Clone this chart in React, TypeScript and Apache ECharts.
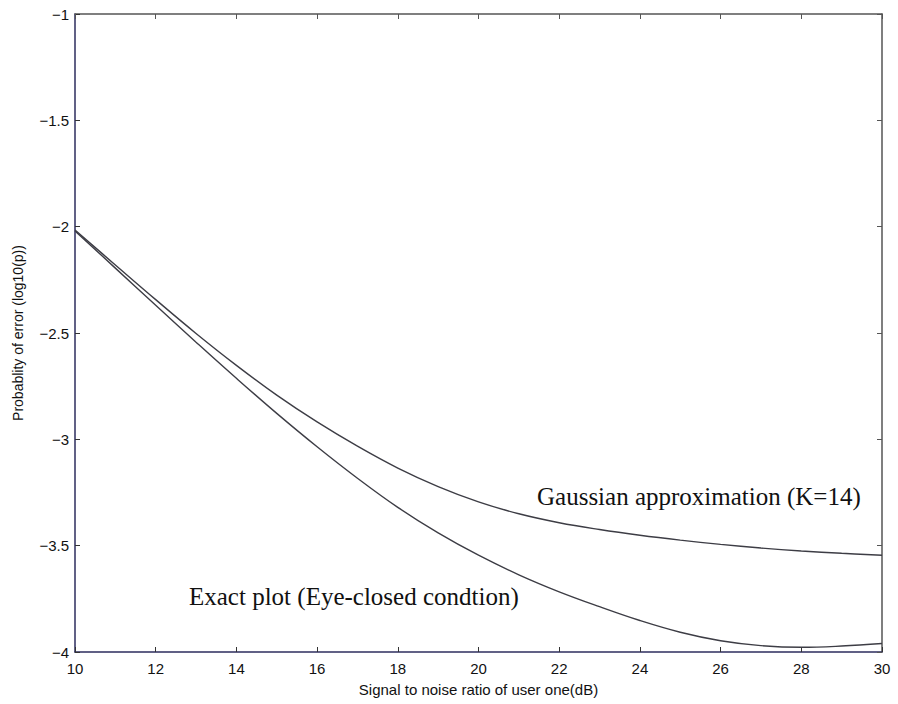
import React, { useEffect, useRef } from "react";
import * as echarts from "echarts";

const snr = [10, 11, 12, 13, 14, 15, 16, 17, 18, 19, 20, 21, 22, 23, 24, 25, 26, 27, 28, 29, 30];
const gaussianApprox = [-2.016, -2.18, -2.343, -2.502, -2.652, -2.792, -2.918, -3.032, -3.135, -3.222, -3.294, -3.35, -3.392, -3.424, -3.451, -3.474, -3.494, -3.511, -3.525, -3.536, -3.545];
const exactPlot = [-2.02, -2.195, -2.37, -2.543, -2.713, -2.878, -3.035, -3.183, -3.32, -3.44, -3.545, -3.637, -3.717, -3.787, -3.852, -3.907, -3.947, -3.97, -3.978, -3.972, -3.96];
const xTitle = "Signal to noise ratio of user one(dB)";
const yTitle = "Probablity of error (log10(p))";
const gaussLabel = "Gaussian approximation (K=14)";
const exactLabel = "Exact plot (Eye-closed condtion)";

export default function App() {
  const ref = useRef<HTMLDivElement>(null);
  useEffect(() => {
    if (!ref.current) return;
    const chart = echarts.init(ref.current, null, { renderer: "svg" });
    const axisFont = { fontFamily: "Liberation Sans", fontSize: 15, color: "#111" };
    const minus = (v: number) => String(v).replace("-", "\u2212");
    chart.setOption({
      animation: false,
      backgroundColor: "#fff",
      grid: { left: 75, right: 16, top: 14, bottom: 52, containLabel: false },
      xAxis: [
        {
          type: "value", min: 10, max: 30, interval: 2,
          axisLine: { lineStyle: { color: "#2c2c5e", width: 1.5 } },
          axisTick: { inside: true, length: 5, lineStyle: { color: "#333" } },
          axisLabel: { ...axisFont, margin: 9, formatter: minus },
          splitLine: { show: false },
          name: xTitle, nameLocation: "middle", nameGap: 30,
          nameTextStyle: { ...axisFont },
        },
        {
          type: "value", min: 10, max: 30, interval: 2, position: "top",
          axisLine: { show: true, lineStyle: { color: "#555", width: 1.5 } },
          axisTick: { inside: true, length: 5, lineStyle: { color: "#555" } },
          axisLabel: { show: false }, splitLine: { show: false },
        },
      ],
      yAxis: [
        {
          type: "value", min: -4, max: -1, interval: 0.5,
          axisLine: { show: true, lineStyle: { color: "#2c2c5e", width: 1.5 } },
          axisTick: { show: true, inside: true, length: 5, lineStyle: { color: "#333" } },
          axisLabel: { ...axisFont, margin: 6, formatter: minus },
          splitLine: { show: false },
          name: yTitle, nameLocation: "middle", nameGap: 50,
          nameTextStyle: { ...axisFont, fontSize: 14 },
        },
        {
          type: "value", min: -4, max: -1, interval: 0.5, position: "right",
          axisLine: { show: true, lineStyle: { color: "#555", width: 1.5 } },
          axisTick: { show: true, inside: true, length: 5, lineStyle: { color: "#555" } },
          axisLabel: { show: false }, splitLine: { show: false },
        },
      ],
      series: [
        {
          type: "line", name: gaussLabel, smooth: 0.4, showSymbol: false,
          data: snr.map((x, i) => [x, gaussianApprox[i]]),
          lineStyle: { color: "#3d3d45", width: 1.4 },
        },
        {
          type: "line", name: exactLabel, smooth: 0.4, showSymbol: false,
          data: snr.map((x, i) => [x, exactPlot[i]]),
          lineStyle: { color: "#3d3d45", width: 1.4 },
        },
      ],
      graphic: [
        {
          type: "text", x: 537, y: 496,
          style: { text: gaussLabel, font: "25px 'Liberation Serif'", fill: "#111", verticalAlign: "middle" },
        },
        {
          type: "text", x: 189, y: 596,
          style: { text: exactLabel, font: "25px 'Liberation Serif'", fill: "#111", verticalAlign: "middle" },
        },
      ],
    });
    return () => chart.dispose();
  }, []);
  return <div ref={ref} style={{ position: "fixed", left: 0, top: 0, width: 898, height: 704 }} />;
}
